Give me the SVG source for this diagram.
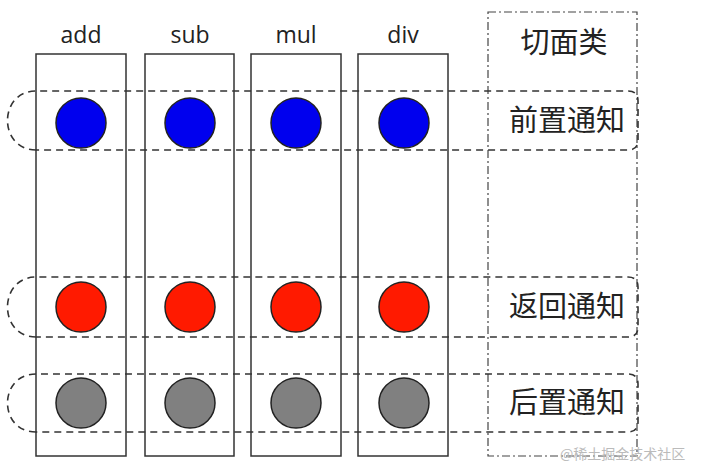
<svg xmlns="http://www.w3.org/2000/svg" width="710" height="476" viewBox="0 0 710 476">
<style>
.col{fill:none;stroke:#333;stroke-width:1.5}
.band{fill:none;stroke:#333;stroke-width:1.6;stroke-dasharray:7,5}
.lbl{font-family:"Open Sans","DejaVu Sans",sans-serif;font-size:23px;fill:#222;text-anchor:middle}
.cn{font-family:"Noto Sans CJK SC",sans-serif;font-size:29px;fill:#222;text-anchor:middle}
.c{stroke:#222;stroke-width:1.5}
</style>
<rect width="710" height="476" fill="#fff"/>
<g id="aspect"><rect x="488" y="12" width="149" height="444" fill="none" stroke="#444" stroke-width="1.2" stroke-dasharray="8,3,2,3"/><text class="cn" x="564" y="53">切面类</text></g>
<g id="add"><rect class="col" x="36" y="54" width="90" height="402"/><text class="lbl" x="81" y="43">add</text><circle class="c" cx="81" cy="123" r="25" fill="#0000ee"/><circle class="c" cx="81" cy="307" r="25" fill="#ff1a00"/><circle class="c" cx="81" cy="403" r="25" fill="#808080"/></g>
<g id="sub"><rect class="col" x="145" y="54" width="89" height="402"/><text class="lbl" x="190" y="43">sub</text><circle class="c" cx="190" cy="123" r="25" fill="#0000ee"/><circle class="c" cx="190" cy="307" r="25" fill="#ff1a00"/><circle class="c" cx="190" cy="403" r="25" fill="#808080"/></g>
<g id="mul"><rect class="col" x="251" y="54" width="90" height="402"/><text class="lbl" x="296" y="43">mul</text><circle class="c" cx="296" cy="123" r="25" fill="#0000ee"/><circle class="c" cx="296" cy="307" r="25" fill="#ff1a00"/><circle class="c" cx="296" cy="403" r="25" fill="#808080"/></g>
<g id="div"><rect class="col" x="358" y="54" width="90" height="402"/><text class="lbl" x="403" y="43">div</text><circle class="c" cx="404" cy="123" r="25" fill="#0000ee"/><circle class="c" cx="404" cy="307" r="25" fill="#ff1a00"/><circle class="c" cx="404" cy="403" r="25" fill="#808080"/></g>
<g id="bands">
<path class="band" d="M36,150 C-2,150 -2,91 36,91 H628 Q638,91 638,101 V140 Q638,150 628,150 Z"/>
<path class="band" d="M36,337 C-2,337 -2,277 36,277 H628 Q638,277 638,287 V327 Q638,337 628,337 Z"/>
<path class="band" d="M36,432 C-2,432 -2,374 36,374 H628 Q638,374 638,384 V422 Q638,432 628,432 Z"/>
<text class="cn" x="567" y="131">前置通知</text>
<text class="cn" x="567" y="317">返回通知</text>
<text class="cn" x="567" y="413">后置通知</text>
</g>
<text x="560" y="459" font-family="Noto Sans CJK SC,sans-serif" font-size="14" fill="#bbb">@稀土掘金技术社区</text>
</svg>
